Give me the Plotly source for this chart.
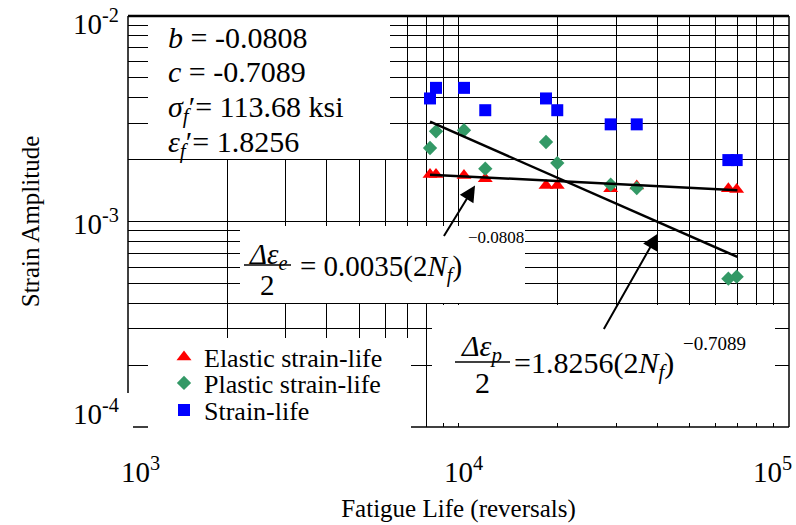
import math
import plotly.graph_objects as go

# ---- data ----
reversals = [8200, 8550, 10390, 12050, 18400, 19900, 28870, 34620, 65540, 69450]
elastic = [1.695e-3, 1.695e-3, 1.676e-3, 1.615e-3, 1.498e-3, 1.498e-3, 1.444e-3, 1.487e-3, 1.444e-3, 1.432e-3]
plastic = [2.278e-3, 2.748e-3, 2.78e-3, 1.807e-3, 2.437e-3, 1.925e-3, 1.51e-3, 1.454e-3, 5.27e-4, 5.39e-4]
total = [3.97e-3, 4.47e-3, 4.47e-3, 3.48e-3, 3.97e-3, 3.48e-3, 2.97e-3, 2.97e-3, 1.99e-3, 1.99e-3]

fit_x = [8200, 69800]
elastic_fit = [1.69e-3, 1.42e-3]
plastic_fit = [3.06e-3, 6.72e-4]

elastic_arrow_tip = (11220, 1.498e-3)
plastic_arrow_tip = (40150, 8.74e-4)

x_major = [1000, 10000, 100000]
x_major_text = ["10<sup>3</sup>", "10<sup>4</sup>", "10<sup>5</sup>"]
x_minor = [2000, 3000, 4000, 5000, 6000, 7000, 8000, 9000,
           20000, 30000, 40000, 50000, 60000, 70000, 80000, 90000]
y_major = [1e-4, 1e-3, 1e-2]
y_major_text = ["10<sup>-4</sup>", "10<sup>-3</sup>", "10<sup>-2</sup>"]
y_minor = [2e-4, 3e-4, 4e-4, 5e-4, 6e-4, 7e-4, 8e-4, 9e-4,
           2e-3, 3e-3, 4e-3, 5e-3, 6e-3, 7e-3, 8e-3, 9e-3]

# ---- layout geometry (pixels) ----
W, H = 796, 525
PL, PR, PT, PB = 128, 789, 16, 427
FONT = "Liberation Serif, Times New Roman, serif"


def fx(px):
    return (px - PL) / (PR - PL)


def fy(py):
    return (PB - py) / (PB - PT)


fig = go.Figure()

fig.add_trace(go.Scatter(x=reversals, y=elastic, mode="markers", name="Elastic strain-life",
                         legend="legend",
                         marker=dict(symbol="triangle-up", color="#FF0000", size=13)))
fig.add_trace(go.Scatter(x=reversals, y=plastic, mode="markers", name="Plastic strain-life",
                         legend="legend2",
                         marker=dict(symbol="diamond", color="#339966", size=11)))
fig.add_trace(go.Scatter(x=reversals, y=total, mode="markers", name="Strain-life",
                         legend="legend3",
                         marker=dict(symbol="square", color="#0000FF", size=12)))
fig.add_trace(go.Scatter(x=fit_x, y=elastic_fit, mode="lines", showlegend=False,
                         line=dict(color="black", width=2.5)))
fig.add_trace(go.Scatter(x=fit_x, y=plastic_fit, mode="lines", showlegend=False,
                         line=dict(color="black", width=2.5)))

shapes = []
# white boxes that hide the grid behind text
for (x0, y0, x1, y1) in [(148, 17, 390, 159), (240, 226, 525, 303),
                         (432, 305, 775, 423), (148, 338, 411, 445)]:
    shapes.append(dict(type="rect", xref="paper", yref="paper", layer="above",
                       x0=fx(x0), x1=fx(x1), y0=fy(y1), y1=fy(y0),
                       fillcolor="white", line=dict(width=0)))
# frame lines
for (x0, y0, x1, y1, w) in [(PL, PT, PR, PT, 2.5), (PR, PT, PR, PB, 1.5),
                            (411, PB, PR, PB, 1.5), (PL, PT, PL, 393, 1.5),
                            (133, PB, 148, PB, 1.5)]:
    shapes.append(dict(type="line", xref="paper", yref="paper", layer="above",
                       x0=fx(x0), x1=fx(x1), y0=fy(y0), y1=fy(y1),
                       line=dict(color="black", width=w)))
# fraction bars
for (x0, x1, y) in [(244, 291, 265), (455, 510, 362)]:
    shapes.append(dict(type="line", xref="paper", yref="paper", layer="above",
                       x0=fx(x0), x1=fx(x1), y0=fy(y), y1=fy(y),
                       line=dict(color="black", width=1.5)))

ann = []


def txt(text, px, py, size, xanchor="left", yanchor="middle"):
    ann.append(dict(text=text, x=fx(px), y=fy(py), xref="paper", yref="paper",
                    xanchor=xanchor, yanchor=yanchor, showarrow=False,
                    font=dict(family=FONT, size=size, color="black")))


# tick labels placed on the axis scale
for v, t, sh in zip(x_major, x_major_text, [12, 5, -17]):
    ann.append(dict(text=t, x=math.log10(v), y=fy(470), xref="x", yref="paper",
                    xanchor="center", yanchor="middle", xshift=sh, showarrow=False,
                    font=dict(family=FONT, size=29, color="black")))
for v, t, sh in zip(y_major, y_major_text, [15, 0, -6]):
    ann.append(dict(text=t, x=fx(121), y=math.log10(v), xref="paper", yref="y",
                    xanchor="right", yanchor="middle", yshift=sh, showarrow=False,
                    font=dict(family=FONT, size=29, color="black")))

# parameter block
txt("<i>b</i> = -0.0808", 166, 37, 30)
txt("<i>c</i> = -0.7089", 166, 72, 30)
txt("<i>σ<sub>f</sub></i>′= 113.68 ksi", 166, 109, 30)
txt("<i>ε<sub>f</sub></i>′= 1.8256", 166, 144, 30)

# elastic equation
txt("<i>Δε</i><sub><i>e</i></sub>", 268, 256, 29, xanchor="center")
txt("2", 267, 285, 29, xanchor="center")
txt("= 0.0035(2<i>N</i><sub><i>f</i></sub>)", 298, 268, 29)
txt("−0.0808", 466, 237, 17)

# plastic equation
txt("<i>Δε</i><sub><i>p</i></sub>", 481, 348, 30, xanchor="center")
txt("2", 482, 382, 30, xanchor="center")
txt("=1.8256(2<i>N</i><sub><i>f</i></sub>)", 512, 365, 30)
txt("−0.7089", 681, 343, 19)

# arrows
for (tip, tail_px, tip_px) in [(elastic_arrow_tip, (443, 237), (475, 185)),
                               (plastic_arrow_tip, (603, 330), (658, 233))]:
    ann.append(dict(x=math.log10(tip[0]), y=math.log10(tip[1]), xref="x", yref="y",
                    ax=tail_px[0] - tip_px[0], ay=tail_px[1] - tip_px[1],
                    text="", showarrow=True, arrowhead=2, arrowsize=1.6,
                    arrowwidth=2, arrowcolor="black", standoff=0))

leg_common = dict(xanchor="left", yanchor="middle", bgcolor="rgba(0,0,0,0)",
                  font=dict(family=FONT, size=26, color="black"), itemwidth=30,
                  borderwidth=0)
fig.update_layout(
    width=W, height=H,
    margin=dict(l=PL, r=W - PR, t=PT, b=H - PB, autoexpand=False),
    paper_bgcolor="white", plot_bgcolor="white",
    font=dict(family=FONT, color="black"),
    showlegend=True,
    legend=dict(x=fx(164), y=fy(357), **leg_common),
    legend2=dict(x=fx(164), y=fy(383), **leg_common),
    legend3=dict(x=fx(164), y=fy(410), **leg_common),
    shapes=shapes, annotations=ann,
)
fig.update_xaxes(type="log", range=[3, 5], tickmode="array", tickvals=x_major,
                 showticklabels=False, showgrid=True, gridcolor="black", gridwidth=1,
                 minor=dict(tickmode="array", tickvals=x_minor, showgrid=True,
                            gridcolor="black", gridwidth=1, ticks=""),
                 ticks="", showline=False, zeroline=False, automargin=False,
                 title=dict(text="Fatigue Life (reversals)", font=dict(size=25), standoff=72))
fig.update_yaxes(type="log", range=[-4, -2], tickmode="array", tickvals=y_major,
                 showticklabels=False, showgrid=True, gridcolor="black", gridwidth=1,
                 minor=dict(tickmode="array", tickvals=y_minor, showgrid=True,
                            gridcolor="black", gridwidth=1, ticks=""),
                 ticks="", showline=False, zeroline=False, automargin=False,
                 title=dict(text="Strain Amplitude", font=dict(size=25), standoff=80))

fig.write_html("out.html", config={"displayModeBar": False},
               post_script="document.body.style.margin='0';document.body.style.overflow='hidden';")
